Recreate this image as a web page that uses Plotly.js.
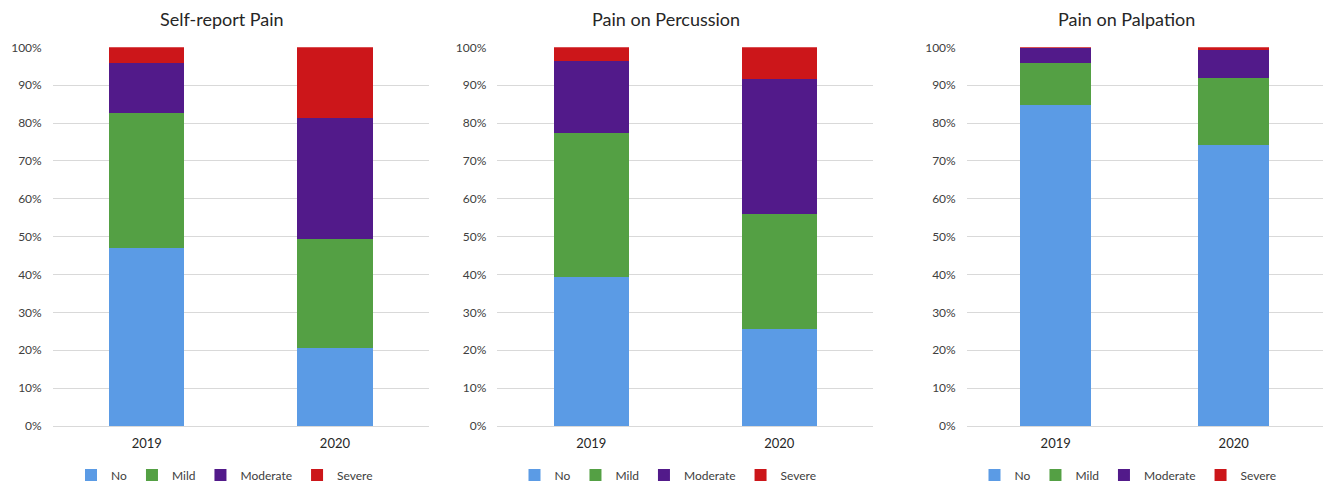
<!DOCTYPE html>
<html>
<head>
<meta charset="utf-8">
<script src="https://cdn.plot.ly/plotly-3.0.1.min.js"></script>
<style>html,body{margin:0;padding:0;background:#fff;}#chart{width:1328px;height:483px;}</style>
</head>
<body>
<div id="chart"></div>
<script>
const categories = ['2019', '2020'];
const seriesNames = ['No', 'Mild', 'Moderate', 'Severe'];
const panelTitles = ['Self-report Pain', 'Pain on Percussion', 'Pain on Palpation'];

const selfNo = [46.9, 20.7];
const selfMild = [35.8, 28.7];
const selfModerate = [13.1, 32.0];
const selfSevere = [4.2, 18.6];

const percNo = [39.3, 25.5];
const percMild = [38.2, 30.6];
const percModerate = [18.9, 35.4];
const percSevere = [3.6, 8.5];

const palpNo = [84.7, 74.3];
const palpMild = [11.1, 17.5];
const palpModerate = [4.0, 7.4];
const palpSevere = [0.2, 0.8];

const colors = ['#5B9BE5', '#54A044', '#521A8A', '#CC161A'];
const panels = [
  [selfNo, selfMild, selfModerate, selfSevere],
  [percNo, percMild, percModerate, percSevere],
  [palpNo, palpMild, palpModerate, palpSevere]
];
const W = 1328, H = 483;
const xDomPx = [[52.7, 429], [497.3, 873.3], [966.7, 1322.7]];
const titleX = [221.7, 666, 1126.7];
const legendX = [224.5, 668, 1128];
const FONT = 'Lato, "Open Sans", sans-serif';

const traces = [];
panels.forEach((p, i) => {
  p.forEach((vals, s) => {
    traces.push({
      type: 'bar', x: categories, y: vals, name: seriesNames[s],
      marker: {color: colors[s], line: {width: 0}},
      xaxis: i === 0 ? 'x' : 'x' + (i + 1),
      yaxis: i === 0 ? 'y' : 'y' + (i + 1),
      legend: i === 0 ? 'legend' : 'legend' + (i + 1),
      hoverinfo: 'skip'
    });
  });
});

const yDom = [(H - 426) / H, (H - 47.3) / H];
const layout = {
  width: W, height: H,
  margin: {l: 0, r: 0, t: 0, b: 0, autoexpand: false},
  paper_bgcolor: '#fff', plot_bgcolor: '#fff',
  barmode: 'stack', bargap: 0.6,
  font: {family: FONT, color: '#404040', size: 12},
  showlegend: true,
  annotations: panelTitles.map((t, i) => ({
    text: t, xref: 'paper', yref: 'paper', x: titleX[i] / W, y: (H - 19) / H,
    xanchor: 'center', yanchor: 'middle', showarrow: false,
    font: {family: FONT, size: 18, color: '#262626'}
  }))
};
for (let i = 0; i < 3; i++) {
  const sx = i === 0 ? '' : String(i + 1);
  layout['xaxis' + sx] = {
    domain: [xDomPx[i][0] / W, xDomPx[i][1] / W],
    anchor: 'y' + sx, type: 'category', range: [-0.5, 1.5],
    showgrid: false, showline: false, zeroline: false, ticks: '',
    tickfont: {family: FONT, size: 13, color: '#262626'},
    ticklabelstandoff: 8, fixedrange: true
  };
  layout['yaxis' + sx] = {
    domain: yDom, anchor: 'x' + sx, range: [0, 100], dtick: 10, tick0: 0,
    ticksuffix: '%', showgrid: true, gridcolor: '#D9D9D9', gridwidth: 1,
    zeroline: true, zerolinecolor: '#D9D9D9', zerolinewidth: 1,
    showline: false, ticks: '', ticklabelstandoff: 10,
    tickfont: {family: FONT, size: 12, color: '#404040'}, fixedrange: true
  };
  layout['legend' + sx] = {
    orientation: 'h', x: legendX[i] / W, y: (H - 475) / H,
    xanchor: 'center', yanchor: 'middle', traceorder: 'normal',
    font: {family: FONT, size: 12, color: '#404040'},
    itemwidth: 30, bgcolor: 'rgba(0,0,0,0)', tracegroupgap: 0
  };
}

Plotly.newPlot('chart', traces, layout, {staticPlot: true, displayModeBar: false});
</script>
</body>
</html>
